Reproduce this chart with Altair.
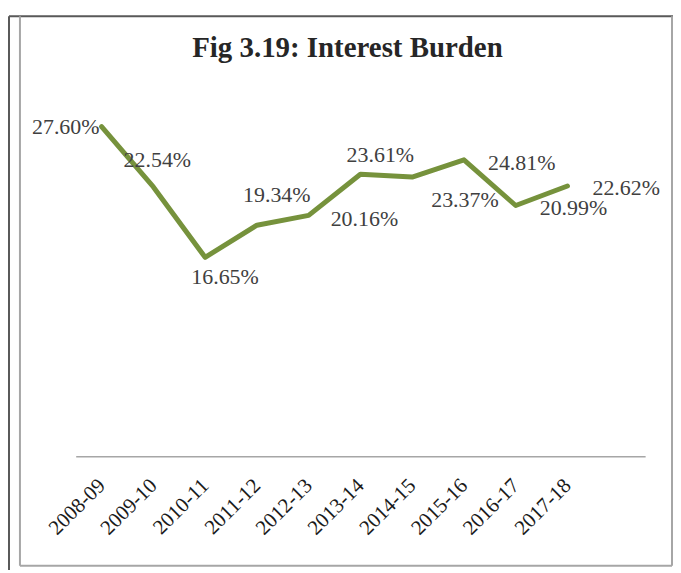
import altair as alt
import pandas as pd

years = ["2008-09", "2009-10", "2010-11", "2011-12", "2012-13",
         "2013-14", "2014-15", "2015-16", "2016-17", "2017-18"]
burden = [27.60, 22.54, 16.65, 19.34, 20.16, 23.61, 23.37, 24.81, 20.99, 22.62]
# label offsets (dx, dy) in pixels relative to each point, as placed in the source
label_offsets = [(-36, 0), (4, -27), (20, 20), (20, -30), (56, 4),
                 (20, -19), (53, 23), (58, 3), (58, 3), (59, 2)]
title_text = "Fig 3.19: Interest Burden"

df = pd.DataFrame({"year": years, "value": burden})
df["label"] = [f"{v:.2f}%" for v in burden]

SERIF = "'Liberation Serif', 'DejaVu Serif', serif"
PLOT_W, PLOT_H = 572, 360
PAD_L, PAD_T, PAD_R, PAD_B = 68, 89, 28, 113

x_enc = alt.X(
    "year:N",
    sort=None,
    scale=alt.Scale(type="point", domain=years + [" "], padding=0.5),
    axis=alt.Axis(
        title=None, labelAngle=-45, labelAlign="right", labelBaseline="middle",
        labelFont=SERIF, labelFontSize=21, labelColor="#1a1a1a",
        labelPadding=26, ticks=False, grid=False, labelOverlap=False,
        domainColor="#A6A6A6", domainWidth=1.5,
    ),
)
y_enc = alt.Y("value:Q", scale=alt.Scale(domain=[0, 30]), axis=None)

line = alt.Chart(df).mark_line(
    color="#76923C", strokeWidth=5, strokeCap="round", strokeJoin="round"
).encode(x=x_enc, y=y_enc)

labels = []
for yr, (dx, dy) in zip(years, label_offsets):
    labels.append(
        alt.Chart(df).transform_filter(alt.datum.year == yr).mark_text(
            dx=dx, dy=dy, font=SERIF, fontSize=22, color="#404040",
            align="center", baseline="middle"
        ).encode(x=x_enc, y=y_enc, text="label:N")
    )

one = pd.DataFrame({"t": [title_text]})
title = alt.Chart(one).mark_text(
    font=SERIF, fontSize=29, fontWeight="bold", color="#262626",
    align="center", baseline="alphabetic"
).encode(x=alt.value(273), y=alt.value(-41), text="t:N")

# frame lines (positions relative to plot area origin)
frame = [
    alt.Chart(one).mark_rule(color="#595959", strokeWidth=2).encode(
        x=alt.value(-67), x2=alt.value(620), y=alt.value(-82)),
    alt.Chart(one).mark_rule(color="#595959", strokeWidth=2).encode(
        x=alt.value(-67), y=alt.value(-82), y2=alt.value(490)),
    alt.Chart(one).mark_rule(color="#A6A6A6", strokeWidth=2).encode(
        x=alt.value(-56), y=alt.value(-82), y2=alt.value(470)),
    alt.Chart(one).mark_rule(color="#A6A6A6", strokeWidth=2).encode(
        x=alt.value(599), y=alt.value(-82), y2=alt.value(470)),
    alt.Chart(one).mark_rule(color="#A6A6A6", strokeWidth=2).encode(
        x=alt.value(-56), x2=alt.value(599), y=alt.value(470)),
]

chart = alt.layer(*frame, title, line, *labels).properties(
    width=PLOT_W,
    height=PLOT_H,
    autosize=alt.AutoSizeParams(type="none"),
    padding={"left": PAD_L, "top": PAD_T, "right": PAD_R, "bottom": PAD_B},
).configure(background="white").configure_view(stroke=None)

chart.save("out.html", embed_options={"renderer": "svg", "actions": False})
